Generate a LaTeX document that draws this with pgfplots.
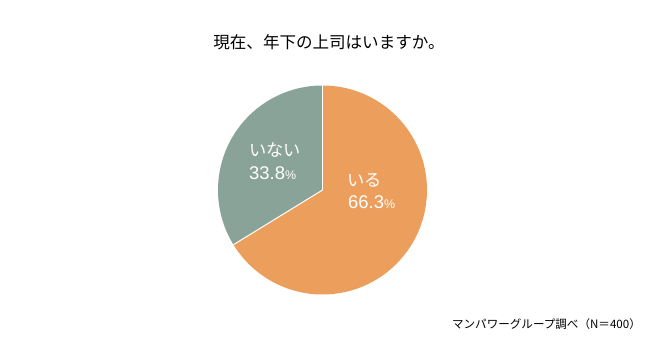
\documentclass[border=0pt]{standalone}
\usepackage{pgfplots}
\pgfplotsset{compat=1.18}
\usepackage{fontspec}
\setmainfont{Noto Sans CJK JP}
\newfontfamily\latinfont{Liberation Sans}
\definecolor{pieorange}{RGB}{236,158,92}
\definecolor{piegreen}{RGB}{137,163,152}
% data (percent)
\def\valA{66.3}% いる
\def\valB{33.8}% いない
\begin{document}
\begin{tikzpicture}
\begin{axis}[
  at={(0,0)}, anchor=south west,
  scale only axis, width=660bp, height=357bp,
  xmin=0, xmax=660, ymin=0, ymax=357,
  hide axis, clip=false,
]
\pgfmathsetmacro{\tot}{\valA+\valB}
\pgfmathsetmacro{\fracA}{\valA/\tot}
\pgfmathsetmacro{\endA}{90-360*\fracA}
% orange slice (いる), clockwise from 12 o'clock
\fill[pieorange] (axis cs:322.5,167) -- (axis cs:322.5,271.5) arc[start angle=90, end angle=\endA, radius=104.5bp] -- cycle;
% green slice (いない)
\fill[piegreen] (axis cs:322.5,167) -- ++(\endA:104.5bp) arc[start angle=\endA, end angle=-270, radius=104.5bp] -- cycle;
\draw[white, line width=1pt] (axis cs:322.5,167) -- (axis cs:322.5,271.5);
\draw[white, line width=1pt] (axis cs:322.5,167) -- ++(\endA:104.5bp);
% labels
\node[anchor=west, text=white, inner sep=0, font=\fontsize{17.3}{17}\selectfont] at (axis cs:249,207) {いない};
\node[anchor=west, text=white, inner sep=0, font=\fontsize{18.5}{18}\selectfont] at (axis cs:249,184) {\latinfont 33.8{\fontsize{12.5}{12}\selectfont\%}};
\node[anchor=west, text=white, inner sep=0, font=\fontsize{17.3}{17}\selectfont] at (axis cs:347,177) {いる};
\node[anchor=west, text=white, inner sep=0, font=\fontsize{18.5}{18}\selectfont] at (axis cs:348,155) {\latinfont 66.3{\fontsize{12.5}{12}\selectfont\%}};
% title
\node[inner sep=0, font=\fontsize{16.6}{16}\selectfont] at (axis cs:329,315) {現在、年下の上司はいますか。};
% source
\node[anchor=east, inner sep=0, font=\fontsize{11.6}{11}\selectfont] at (axis cs:641,33) {マンパワーグループ調べ（N＝400）};
\end{axis}
\pgfresetboundingbox
\path[use as bounding box] (0,0) rectangle (660bp,357bp);
\end{tikzpicture}
\end{document}
